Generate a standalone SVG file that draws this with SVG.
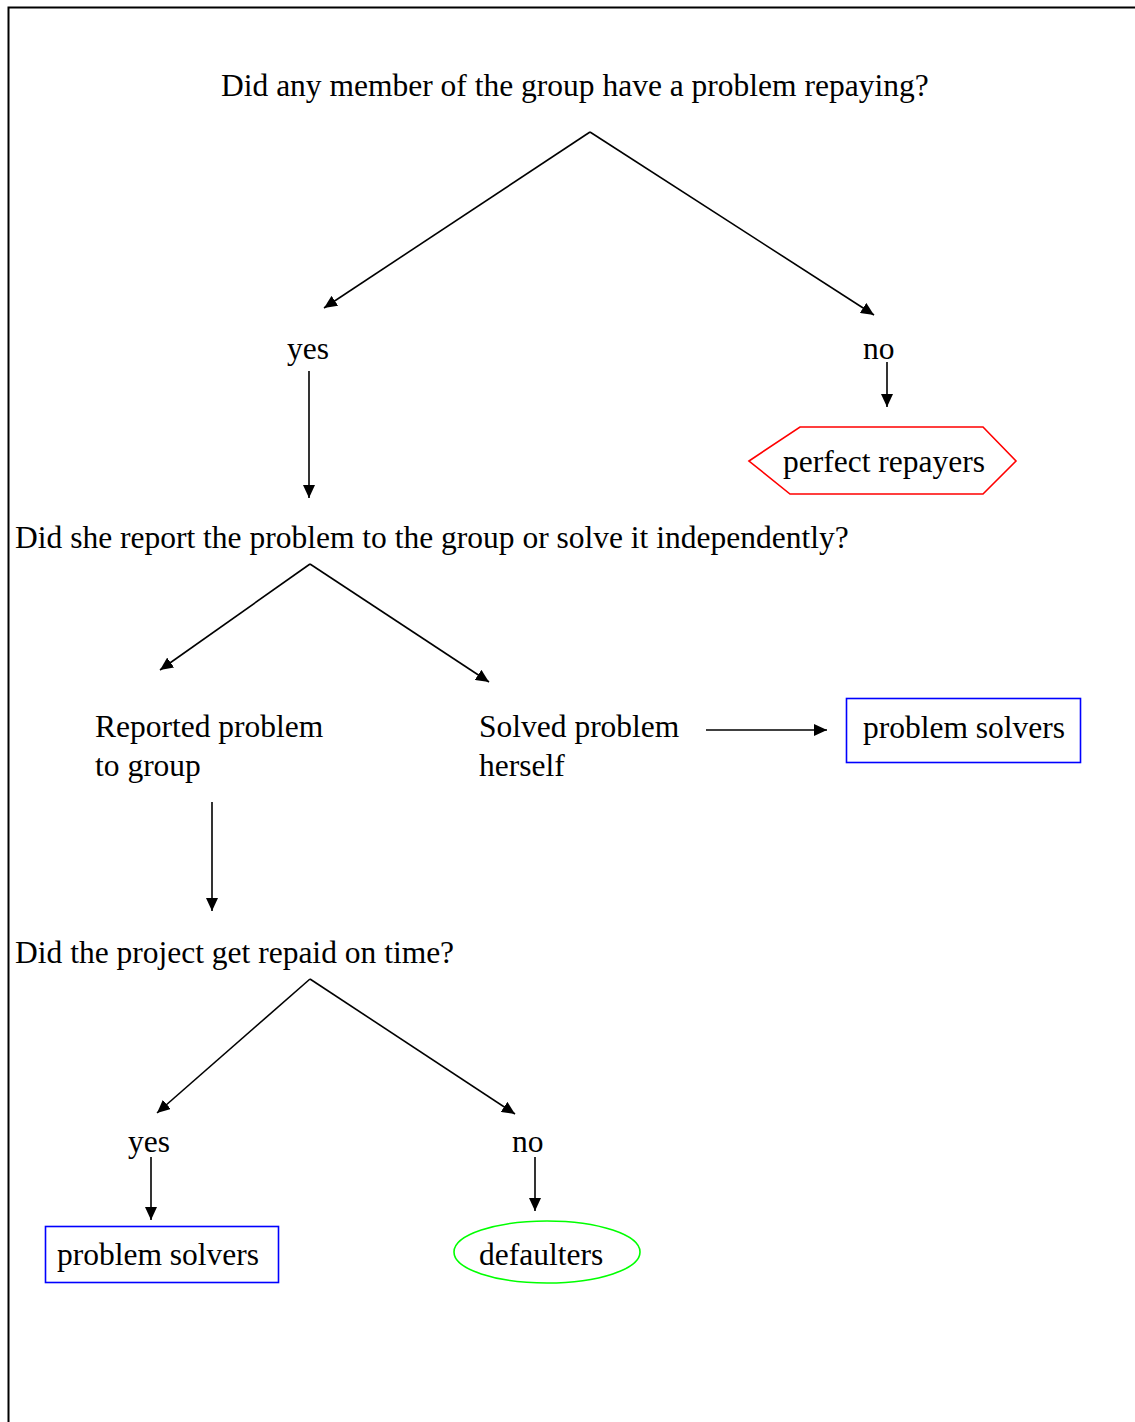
<svg xmlns="http://www.w3.org/2000/svg" width="1135" height="1422" viewBox="0 0 1135 1422">
<style>
text{font-family:"Liberation Serif","Times New Roman",serif;font-size:31.5px;fill:#000}
.c line{stroke:#000;stroke-width:1.6;fill:none}
</style>
<defs>
<marker id="ah" markerUnits="userSpaceOnUse" markerWidth="14" markerHeight="12" refX="13" refY="6" orient="auto">
<path d="M0,0 L13,6 L0,12 Z" fill="#000"/>
</marker>
</defs>
<rect width="1135" height="1422" fill="#fff"/>
<path d="M8.5,1422 V7.5 H1135" fill="none" stroke="#000" stroke-width="2"/>
<g id="q1"><text x="221" y="96">Did any member of the group have a problem repaying?</text></g>
<g id="yes1"><text x="287" y="359">yes</text></g>
<g id="no1"><text x="863" y="359">no</text></g>
<g id="perfect"><polygon points="749,461 800,427 983,427 1016,461 983,494 790,494" fill="none" stroke="#f00" stroke-width="1.6"/><text x="783" y="472">perfect repayers</text></g>
<g id="q2"><text x="15" y="548">Did she report the problem to the group or solve it independently?</text></g>
<g id="reported"><text x="95" y="737">Reported problem</text><text x="95" y="776">to group</text></g>
<g id="solved"><text x="479" y="737">Solved problem</text><text x="479" y="776">herself</text></g>
<g id="solvers1"><rect x="846.5" y="698.5" width="234" height="64" fill="none" stroke="#00f" stroke-width="1.6"/><text x="863" y="738">problem solvers</text></g>
<g id="q3"><text x="15" y="963">Did the project get repaid on time?</text></g>
<g id="yes2"><text x="128" y="1152">yes</text></g>
<g id="no2"><text x="512" y="1152">no</text></g>
<g id="solvers2"><rect x="45.5" y="1226.5" width="233" height="56" fill="none" stroke="#00f" stroke-width="1.6"/><text x="57" y="1265">problem solvers</text></g>
<g id="defaulters"><ellipse cx="547" cy="1252" rx="93" ry="31" fill="none" stroke="#0f0" stroke-width="1.6"/><text x="479" y="1265">defaulters</text></g>
<g class="c" id="connectors">
<line x1="590" y1="132" x2="324" y2="308" marker-end="url(#ah)"/>
<line x1="590" y1="132" x2="874" y2="315" marker-end="url(#ah)"/>
<line x1="309" y1="371" x2="309" y2="498" marker-end="url(#ah)"/>
<line x1="887" y1="362" x2="887" y2="407" marker-end="url(#ah)"/>
<line x1="310" y1="564" x2="160" y2="670" marker-end="url(#ah)"/>
<line x1="310" y1="564" x2="489" y2="682" marker-end="url(#ah)"/>
<line x1="706" y1="730" x2="827" y2="730" marker-end="url(#ah)"/>
<line x1="212" y1="802" x2="212" y2="911" marker-end="url(#ah)"/>
<line x1="310" y1="979" x2="157" y2="1113" marker-end="url(#ah)"/>
<line x1="310" y1="979" x2="515" y2="1114" marker-end="url(#ah)"/>
<line x1="151" y1="1157" x2="151" y2="1220" marker-end="url(#ah)"/>
<line x1="535" y1="1157" x2="535" y2="1211" marker-end="url(#ah)"/>
</g>
</svg>
